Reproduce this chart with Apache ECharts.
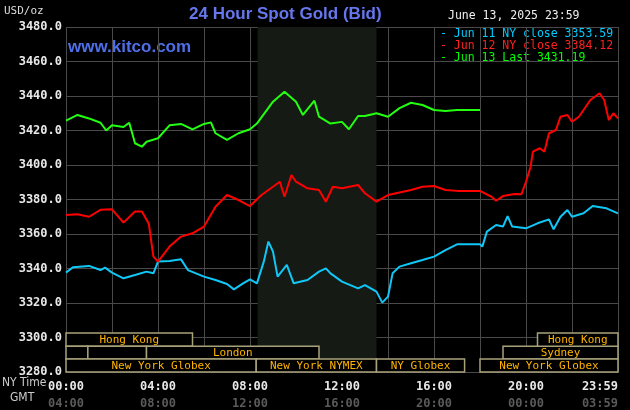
<!DOCTYPE html>
<html><head><meta charset="utf-8">
<script src="https://cdn.jsdelivr.net/npm/echarts@6/dist/echarts.min.js"></script>
<style>html,body{margin:0;padding:0;background:#000}#c{width:630px;height:410px}</style>
</head><body><div id="c"></div>
<script>
// hours since 00:00 NY time, price
const jun11Hours = [0,0.3,1,1.5,1.7,2,2.5,3,3.5,3.8,4,4.5,5,5.3,6,6.5,7,7.3,7.7,8,8.3,8.6,8.8,9,9.2,9.6,9.9,10.5,11,11.3,11.5,12,12.7,13,13.5,13.75,14,14.2,14.5,15,15.5,16,16.5,17,18,18.1,18.3,18.7,19,19.2,19.4,20,20.5,21,21.2,21.5,21.8,22,22.5,22.9,23.5,24];
const jun11Values = [3337.6,3340.7,3341.5,3339.1,3340.5,3337.6,3334.3,3336.2,3338.2,3337.2,3344,3344.4,3345.3,3339.1,3335.3,3333.3,3331,3327.9,3331.4,3333.7,3331.4,3344,3355.6,3349.8,3335.3,3342.1,3331.4,3333.3,3338.2,3340.1,3337.2,3332.4,3328.5,3330.4,3326.6,3320.2,3323.7,3337.2,3341.1,3343,3344.9,3346.9,3350.7,3354,3354,3352.7,3361.4,3365.2,3364.3,3370.4,3364.3,3363.3,3366.2,3368.5,3362.7,3370,3373.9,3370,3372,3376.2,3374.9,3372];
const jun12Hours = [0,0.5,1,1.5,2,2.5,3,3.3,3.6,3.8,4,4.5,5,5.5,6,6.5,7,7.5,8,8.5,9,9.3,9.5,9.8,10,10.5,11,11.3,11.6,12,12.7,13,13.5,14,15,15.5,16,16.5,17,18,18.5,18.7,19,19.5,19.8,20,20.2,20.3,20.6,20.8,21,21.3,21.5,21.8,22,22.3,22.8,23.2,23.4,23.6,23.8,24];
const jun12Values = [3371,3371.4,3370,3374,3374.3,3366.6,3373,3373,3366,3346.9,3344,3352.7,3358.5,3360.4,3364.3,3375.8,3382.6,3379.7,3376.2,3382.6,3387.4,3390.3,3381.6,3394.2,3390.3,3386.5,3385.5,3378.7,3387.4,3386.5,3388.4,3383.6,3378.8,3382.6,3385.5,3387.4,3387.8,3385.5,3385,3385,3381.6,3379.3,3382,3383.2,3383,3390.3,3399,3407.7,3409.7,3407.7,3418.4,3420.3,3428,3429,3425.1,3428,3437.7,3441.6,3437.7,3426,3430,3427];
const jun13Hours = [0,0.5,1,1.5,1.75,2,2.5,2.75,3,3.3,3.5,4,4.5,5,5.5,6,6.3,6.5,7,7.5,8,8.3,9,9.5,10,10.3,10.8,11,11.5,12,12.3,12.7,13,13.5,14,14.5,15,15.5,16,16.5,17,18];
const jun13Values = [3425.7,3429,3427,3424.5,3420,3423,3422,3424.5,3412.6,3410.6,3413.5,3415.5,3423,3423.8,3420.7,3423.8,3424.7,3418.4,3414.5,3418.4,3420.7,3424,3436.7,3442.5,3436.7,3429,3437.3,3428,3424,3425,3420.7,3428.4,3428.4,3430,3428,3433,3436.1,3434.8,3431.9,3431.3,3431.9,3431.9];
const sessionNames = ['Hong Kong','','','London','Sydney','Hong Kong','New York Globex','New York NYMEX','NY Globex','New York Globex'];
const sessionStart = [0,0,0.95,3.5,19,20.5,0,8.27,13.5,18];
const sessionEnd   = [5.5,0.95,3.5,11,24,24,8.27,13.5,17.33,24];
const sessionLow   = [3295,3287.5,3287.5,3287.5,3287.5,3295,3280,3280,3280,3280];
const sessionHigh  = [3302.6,3295,3295,3295,3295,3302.6,3287.5,3287.5,3287.5,3287.5];
const yTicks = [3280,3480,20];
const nymexShade = [8.33,13.5];
const legendLabels = ['Jun 11 NY close 3353.59','Jun 12 NY close 3384.12','Jun 13 Last 3431.19'];

const pair=(h,v)=>h.map((x,i)=>[x,v[i]]);
const mono='DejaVu Sans Mono';
const chart=echarts.init(document.getElementById('c'));
const pad=n=>String(n).padStart(2,'0');
chart.setOption({
  backgroundColor:'#000',
  animation:false,
  grid:{left:66,right:12,top:27,bottom:38,outerBoundsMode:'none',containLabel:false},
  xAxis:{type:'value',min:0,max:24,interval:2,
    axisLine:{show:false},axisTick:{show:false},
    splitLine:{lineStyle:{color:'#4a4a4a',width:1}},
    axisLabel:{margin:6,alignMaxLabel:'right',formatter:v=>{
      if(v%4!==0) return '';
      const ny=v===24?'23:59':pad(v)+':00';
      const g=v===24?'03:59':pad((v+4)%24)+':00';
      return '{a|'+ny+'}\n{b|'+g+'}';},
      rich:{a:{color:'#e8e8e8',fontFamily:mono,fontSize:12,fontWeight:'bold',lineHeight:17},
            b:{color:'#5a5a5a',fontFamily:mono,fontSize:12,fontWeight:'bold',lineHeight:17}}}},
  yAxis:{type:'value',min:yTicks[0],max:yTicks[1],interval:yTicks[2],
    axisLine:{show:false},axisTick:{show:false},
    splitLine:{lineStyle:{color:'#4a4a4a',width:1}},
    axisLabel:{color:'#e8e8e8',fontFamily:mono,fontSize:12,fontWeight:'bold',margin:4,formatter:v=>v.toFixed(1)}},
  graphic:[
    {type:'text',left:4,top:6,style:{text:'USD/oz',fill:'#ddd',font:'11px '+mono}},
    {type:'text',left:189,top:6,style:{text:'24 Hour Spot Gold (Bid)',fill:'#6677ee',font:'bold 17px Liberation Sans'}},
    {type:'text',left:68,top:39,style:{text:'www.kitco.com',fill:'#4f6fe8',font:'bold 17px Liberation Sans'}},
    {type:'text',left:448,top:10,style:{text:'June 13, 2025 23:59',fill:'#eee',font:'11.5px '+mono}},
    {type:'text',left:440,top:28,style:{text:'- '+legendLabels[0],fill:'#00ccff',font:'11.5px '+mono}},
    {type:'text',left:440,top:40,style:{text:'- '+legendLabels[1],fill:'#ff2020',font:'11.5px '+mono}},
    {type:'text',left:440,top:52,style:{text:'- '+legendLabels[2],fill:'#00ff00',font:'11.5px '+mono}},
    {type:'text',left:2,top:377,style:{text:'NY Time',fill:'#ccc',font:'12px Liberation Sans Narrow, DejaVu Sans Condensed'}},
    {type:'text',left:10,top:392,style:{text:'GMT',fill:'#ccc',font:'12px Liberation Sans Narrow, DejaVu Sans Condensed'}}
  ],
  series:[
    {type:'line',data:[],markArea:{silent:true,itemStyle:{color:'#161a14'},data:[[{xAxis:nymexShade[0]},{xAxis:nymexShade[1]}]]}},
    {type:'custom',silent:true,clip:false,z:5,
      data:sessionNames.map((n,i)=>[sessionStart[i],sessionEnd[i],sessionLow[i],sessionHigh[i],n]),
      renderItem:(p,api)=>{
        const a=api.coord([api.value(0),api.value(3)]),b=api.coord([api.value(1),api.value(2)]);
        const name=sessionNames[p.dataIndex];
        return {type:'group',children:[
          {type:'rect',shape:{x:a[0],y:a[1],width:b[0]-a[0],height:b[1]-a[1]},style:{fill:'#000',stroke:'#a8a27a',lineWidth:1.5}},
          {type:'text',style:{text:name,x:(a[0]+b[0])/2,y:(a[1]+b[1])/2+1,align:'center',verticalAlign:'middle',fill:'#ffb400',font:'11px '+mono}}
        ]};
      }},
    {type:'line',data:pair(jun11Hours,jun11Values),showSymbol:false,lineStyle:{color:'#10c8f8',width:2}},
    {type:'line',data:pair(jun12Hours,jun12Values),showSymbol:false,lineStyle:{color:'#ff0000',width:2}},
    {type:'line',data:pair(jun13Hours,jun13Values),showSymbol:false,lineStyle:{color:'#22ff10',width:2}}
  ]
});
</script></body></html>
